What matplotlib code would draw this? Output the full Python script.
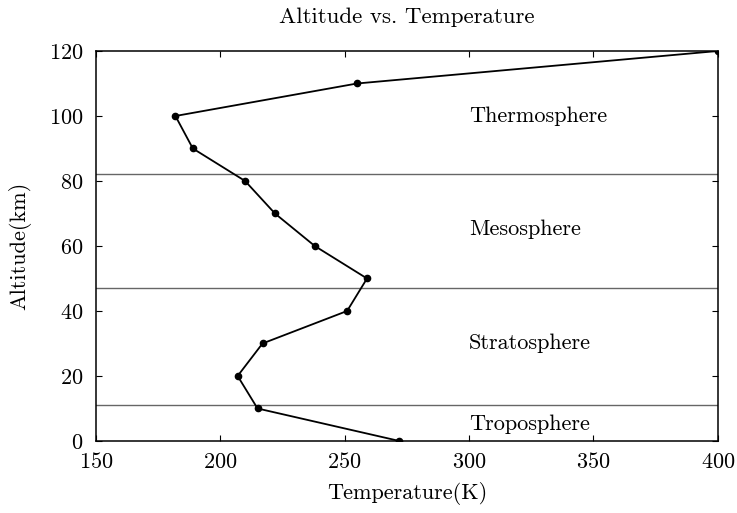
import matplotlib
matplotlib.use("Agg")
import matplotlib.pyplot as plt

plt.rcParams['font.family'] = ['cmr10', 'DejaVu Serif']
plt.rcParams['mathtext.fontset'] = 'cm'
plt.rcParams['axes.formatter.use_mathtext'] = True

temperature = [272, 215, 207, 217, 251, 259, 238, 222, 210, 189, 182, 255, 400]
altitude = [0, 10, 20, 30, 40, 50, 60, 70, 80, 90, 100, 110, 120]
boundaries = [11, 47, 82]
layer_names = ["Troposphere", "Stratosphere", "Mesosphere", "Thermosphere"]
layer_label_y = [5, 30, 65, 100]
xticks = [150, 200, 250, 300, 350, 400]
yticks = [0, 20, 40, 60, 80, 100, 120]

fig = plt.figure(figsize=(7.37, 5.13), dpi=100)
ax = fig.add_axes([0.130, 0.1404, 0.844, 0.7602])

for b in boundaries:
    ax.axhline(b, color='#666666', lw=1.0, zorder=1)

ax.plot(temperature, altitude, color='black', lw=1.3, marker='o', markersize=4.5, zorder=3,
        clip_on=True)

for name, y in zip(layer_names, layer_label_y):
    ax.text(300, y, name, fontsize=16, ha='left', va='center')

ax.set_xlim(150, 400)
ax.set_ylim(0, 120)
ax.set_xticks(xticks)
ax.set_yticks(yticks)
ax.tick_params(direction='in', top=True, right=True, labelsize=16, length=4.5, width=0.8)
ax.tick_params(axis='y', pad=9)
ax.tick_params(axis='x', pad=8)
for s in ax.spines.values():
    s.set_linewidth(1.1)

ax.set_xlabel("Temperature(K)", fontsize=16, labelpad=7)
ax.set_ylabel("Altitude(km)", fontsize=16, labelpad=13)
ax.set_title("Altitude vs. Temperature", fontsize=16.5, pad=20)

fig.savefig("out.png", dpi=100)
